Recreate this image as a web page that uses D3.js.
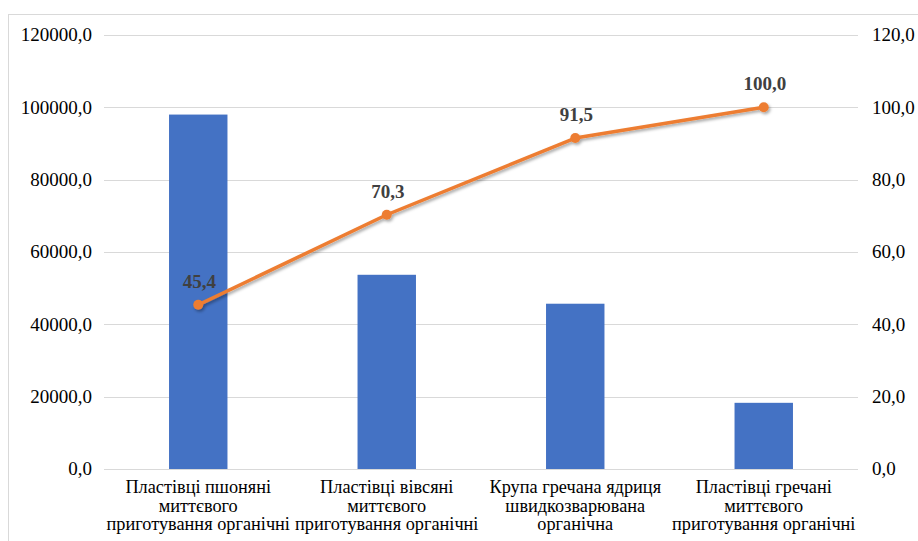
<!DOCTYPE html>
<html>
<head>
<meta charset="utf-8">
<script src="https://cdn.jsdelivr.net/npm/d3@7"></script>
</head>
<body style="margin:0;background:#fff">
<svg id="chart" width="918" height="541" style="display:block" font-family="Liberation Serif"></svg>
<script>
// Categories and values
const categories = [
  ["Пластівці пшоняні", "миттєвого", "приготування органічні"],
  ["Пластівці вівсяні", "миттєвого", "приготування органічні"],
  ["Крупа гречана ядриця", "швидкозварювана", "органічна"],
  ["Пластівці гречані", "миттєвого", "приготування органічні"],
];
const barValues = [98000, 53700, 45700, 18300];
const cumulativePct = [45.4, 70.3, 91.5, 100.0];
const leftTicks = [0, 20000, 40000, 60000, 80000, 100000, 120000];
const rightTicks = [0, 20, 40, 60, 80, 100, 120];

const FONT = "Liberation Serif";
const margin = { top: 35, left: 104 };
const plotRight = 858, plotBottom = 469;

const svg = d3.select("#chart");
const fmt = (v) => d3.format(".1f")(v).replace(".", ",");

// chart border
svg.append("rect")
  .attr("x", 8.5).attr("y", 14.5)
  .attr("width", 930).attr("height", 560)
  .attr("fill", "none").attr("stroke", "#d9d9d9").attr("stroke-width", 1);

const x = d3.scaleBand()
  .domain(d3.range(categories.length))
  .range([margin.left, plotRight])
  .paddingInner(0.69).paddingOuter(0.345);

const yLeft = d3.scaleLinear().domain([0, 120000]).range([plotBottom, margin.top]);
const yRight = d3.scaleLinear().domain([0, 120]).range([plotBottom, margin.top]);

// gridlines
svg.append("g")
  .selectAll("line")
  .data(leftTicks)
  .join("line")
  .attr("x1", margin.left).attr("x2", plotRight)
  .attr("y1", (d) => Math.round(yLeft(d)) + 0.5)
  .attr("y2", (d) => Math.round(yLeft(d)) + 0.5)
  .attr("stroke", "#d9d9d9").attr("stroke-width", 1);

// left axis labels
svg.append("g")
  .selectAll("text")
  .data(leftTicks)
  .join("text")
  .attr("x", 92).attr("y", (d) => yLeft(d))
  .attr("dy", "0.33em")
  .attr("text-anchor", "end")
  .attr("font-family", FONT).attr("font-size", 19)
  .attr("fill", "#000")
  .text(fmt);

// right axis labels
svg.append("g")
  .selectAll("text")
  .data(rightTicks)
  .join("text")
  .attr("x", 872).attr("y", (d) => yRight(d))
  .attr("dy", "0.33em")
  .attr("text-anchor", "start")
  .attr("font-family", FONT).attr("font-size", 19)
  .attr("fill", "#000")
  .text(fmt);

// bars
svg.append("g")
  .selectAll("rect")
  .data(barValues)
  .join("rect")
  .attr("x", (d, i) => x(i))
  .attr("width", x.bandwidth())
  .attr("y", (d) => yLeft(d))
  .attr("height", (d) => plotBottom - yLeft(d))
  .attr("fill", "#4472C4");

// category labels (three lines each)
const catG = svg.append("g")
  .selectAll("text")
  .data(categories)
  .join("text")
  .attr("x", (d, i) => x(i) + x.bandwidth() / 2)
  .attr("y", 493)
  .attr("text-anchor", "middle")
  .attr("font-family", FONT).attr("font-size", 18.3)
  .attr("fill", "#000");
catG.selectAll("tspan")
  .data((d) => d)
  .join("tspan")
  .attr("x", function () { return d3.select(this.parentNode).attr("x"); })
  .attr("dy", (d, i) => i === 0 ? 0 : 18.5)
  .text((d) => d);

// drop shadow for the line
const defs = svg.append("defs");
const shadow = defs.append("filter").attr("id", "shadow")
  .attr("x", "-10%").attr("y", "-10%").attr("width", "120%").attr("height", "130%");
shadow.append("feDropShadow")
  .attr("dx", 1.5).attr("dy", 2).attr("stdDeviation", 1.5)
  .attr("flood-color", "#000").attr("flood-opacity", 0.35);

const cx = (i) => x(i) + x.bandwidth() / 2;
const line = d3.line().x((d, i) => cx(i)).y((d) => yRight(d));

const lineG = svg.append("g").attr("filter", "url(#shadow)");
lineG.append("path")
  .datum(cumulativePct)
  .attr("d", line)
  .attr("fill", "none")
  .attr("stroke", "#ED7D31").attr("stroke-width", 3.5)
  .attr("stroke-linejoin", "round");
lineG.selectAll("circle")
  .data(cumulativePct)
  .join("circle")
  .attr("cx", (d, i) => cx(i)).attr("cy", (d) => yRight(d))
  .attr("r", 5)
  .attr("fill", "#ED7D31");

// point labels
svg.append("g")
  .selectAll("text")
  .data(cumulativePct)
  .join("text")
  .attr("x", (d, i) => cx(i) + 1)
  .attr("y", (d) => yRight(d) - 17)
  .attr("text-anchor", "middle")
  .attr("font-family", FONT).attr("font-size", 19).attr("font-weight", "bold")
  .attr("fill", "#404040")
  .text(fmt);
</script>
</body>
</html>
